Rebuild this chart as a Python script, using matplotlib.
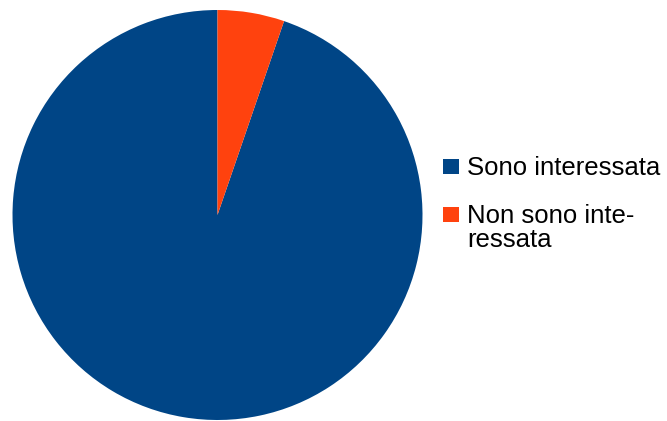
import matplotlib.pyplot as plt
from matplotlib.patches import Rectangle

plt.rcParams['font.family'] = ['Liberation Sans', 'DejaVu Sans']

categorie = ['Sono interessata', 'Non sono inte-\nressata']
valori = [18, 1]
colori = ['#004586', '#ff420e']

W, H = 667, 421
fig = plt.figure(figsize=(W / 100, H / 100), dpi=100)
ax = fig.add_axes([12 / W, 1 - 420 / H, 411 / W, 410 / H])
ax.pie(valori, colors=colori, startangle=90, counterclock=True,
       wedgeprops={'linewidth': 0})
ax.set_xlim(-1, 1)
ax.set_ylim(-1, 1)
ax.set_aspect('equal')
ax.axis('off')

# legenda disegnata a mano: quadratino allineato alla prima riga
y_base = 175       # linea di base della prima voce (pixel dall'alto)
passo_voce = 48
passo_riga = 24
for i, (nome, col) in enumerate(zip(categorie, colori)):
    y0 = y_base + i * passo_voce
    fig.patches.append(Rectangle((443 / W, 1 - (y0 - 1) / H), 16 / W, 15 / H,
                                 transform=fig.transFigure, facecolor=col,
                                 edgecolor='none'))
    for j, riga in enumerate(nome.split('\n')):
        fig.text(467 / W, 1 - (y0 + j * passo_riga) / H, riga,
                 fontsize=18.5, va='baseline', ha='left', color='black')

fig.savefig('out.png', dpi=100)
